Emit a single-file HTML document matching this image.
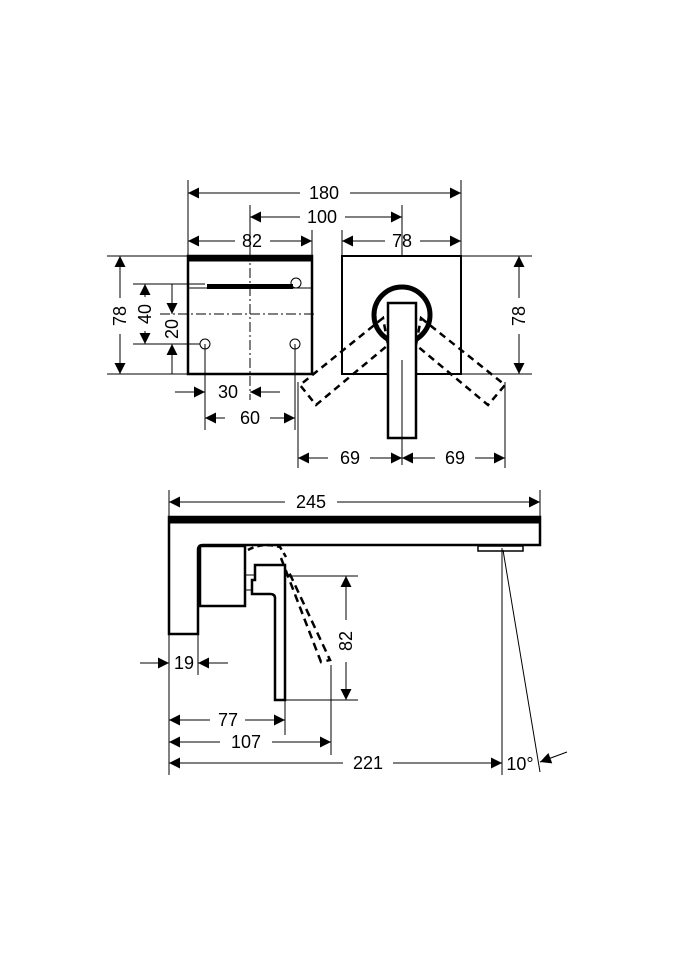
<!DOCTYPE html>
<html><head><meta charset="utf-8"><style>
html,body{margin:0;padding:0;background:#fff;}
svg{display:block;}
text{font-family:"Liberation Sans",sans-serif;font-size:18px;fill:#000;}
</style></head><body>
<svg width="675" height="960" viewBox="0 0 675 960" xmlns="http://www.w3.org/2000/svg">
<defs>
<marker id="a" viewBox="0 0 10 10" refX="10" refY="5" markerWidth="16" markerHeight="11" markerUnits="userSpaceOnUse" orient="auto-start-reverse"><path d="M0,0 L10,5 L0,10 z" fill="#000"/></marker>
</defs>
<g stroke="#000" stroke-width="1" fill="none">
<line x1="188" y1="180" x2="188" y2="256"/>
<line x1="461" y1="180" x2="461" y2="256"/>
<line x1="250" y1="205" x2="250" y2="256"/>
<line x1="402" y1="205" x2="402" y2="256"/>
<line x1="312" y1="230" x2="312" y2="256"/>
<line x1="342" y1="230" x2="342" y2="256"/>
<line x1="188" y1="193" x2="300" y2="193" marker-start="url(#a)"/>
<line x1="350" y1="193" x2="461" y2="193" marker-end="url(#a)"/>
<line x1="250" y1="217" x2="300" y2="217" marker-start="url(#a)"/>
<line x1="345" y1="217" x2="402" y2="217" marker-end="url(#a)"/>
<line x1="188" y1="241" x2="235" y2="241" marker-start="url(#a)"/>
<line x1="270" y1="241" x2="312" y2="241" marker-end="url(#a)"/>
<line x1="342" y1="241" x2="385" y2="241" marker-start="url(#a)"/>
<line x1="420" y1="241" x2="461" y2="241" marker-end="url(#a)"/>
<line x1="107" y1="256" x2="188" y2="256"/>
<line x1="107" y1="374" x2="188" y2="374"/>
<line x1="461" y1="256" x2="532" y2="256"/>
<line x1="461" y1="374" x2="532" y2="374"/>
<line x1="133" y1="284" x2="205" y2="284"/>
<line x1="133" y1="344" x2="200" y2="344"/>
<line x1="120" y1="256" x2="120" y2="298" marker-start="url(#a)"/>
<line x1="120" y1="334" x2="120" y2="374" marker-end="url(#a)"/>
<line x1="145" y1="284" x2="145" y2="297" marker-start="url(#a)"/>
<line x1="145" y1="331" x2="145" y2="344" marker-end="url(#a)"/>
<line x1="172" y1="284" x2="172" y2="314" marker-end="url(#a)"/>
<line x1="172" y1="374" x2="172" y2="344" marker-end="url(#a)"/>
<line x1="519" y1="256" x2="519" y2="298" marker-start="url(#a)"/>
<line x1="519" y1="334" x2="519" y2="374" marker-end="url(#a)"/>
<rect x="188" y="256" width="124" height="118" stroke-width="2.5"/>
<rect x="188" y="256" width="124" height="5" fill="#000"/>
<line x1="188" y1="288" x2="312" y2="288"/>
<rect x="207" y="284" width="86" height="5" fill="#000" stroke="none"/>
<circle cx="296" cy="283" r="5"/>
<circle cx="205" cy="344" r="5"/>
<circle cx="295" cy="344" r="5"/>
<line x1="250" y1="250" x2="250" y2="400" stroke-dasharray="10,3,2,3"/>
<line x1="160" y1="314" x2="314" y2="314" stroke-dasharray="10,3,2,3"/>
<line x1="205" y1="344" x2="205" y2="430"/>
<line x1="295" y1="344" x2="295" y2="430"/>
<line x1="175" y1="392" x2="205" y2="392" marker-end="url(#a)"/>
<line x1="280" y1="392" x2="250" y2="392" marker-end="url(#a)"/>
<line x1="205" y1="418" x2="225" y2="418" marker-start="url(#a)"/>
<line x1="270" y1="418" x2="295" y2="418" marker-end="url(#a)"/>
<rect x="342" y="256" width="119" height="118" stroke-width="2"/>
<circle cx="402" cy="315" r="28" stroke-width="5"/>
<polygon points="383,318 300,385 316,405 388,345" stroke-width="2.5" stroke-dasharray="7,5" fill="none"/>
<polygon points="421,318 505,385 488,405 416,345" stroke-width="2.5" stroke-dasharray="7,5" fill="none"/>
<rect x="388" y="303" width="28" height="135" stroke-width="2.5" fill="#fff"/>
<line x1="402" y1="360" x2="402" y2="465"/>
<line x1="298" y1="382" x2="298" y2="468"/>
<line x1="505" y1="382" x2="505" y2="468"/>
<line x1="298" y1="458" x2="328" y2="458" marker-start="url(#a)"/>
<line x1="370" y1="458" x2="402" y2="458" marker-end="url(#a)"/>
<line x1="402" y1="458" x2="435" y2="458" marker-start="url(#a)"/>
<line x1="475" y1="458" x2="505" y2="458" marker-end="url(#a)"/>

<line x1="169" y1="490" x2="169" y2="775"/>
<line x1="540" y1="490" x2="540" y2="517"/>
<line x1="169" y1="502" x2="285" y2="502" marker-start="url(#a)"/>
<line x1="337" y1="502" x2="540" y2="502" marker-end="url(#a)"/>
<path d="M169,517 H540 V545 H203 Q198,545 198,550 V634 H169 Z" stroke-width="2.5"/>
<rect x="169" y="517" width="371" height="6" fill="#000"/>
<rect x="200" y="546" width="45" height="60" stroke-width="2.5"/>
<path d="M248,550 Q262,542 280,547 L286,557" stroke-width="2.5" stroke-dasharray="6,4"/>
<path d="M281,558 L321,662 L330,660 L288,570" stroke-width="2.5" stroke-dasharray="8,5"/>
<path d="M255,565 H285 V700 H275 V598 Q275,594 270,594 H252 V580 H255 Z" stroke-width="2.5" fill="#fff"/>
<line x1="245" y1="575" x2="255" y2="575"/>
<line x1="245" y1="590" x2="252" y2="590"/>
<rect x="478" y="546" width="45" height="5" stroke-width="1.5"/>
<line x1="285" y1="576" x2="358" y2="576"/>
<line x1="285" y1="700" x2="358" y2="700"/>
<line x1="346" y1="576" x2="346" y2="620" marker-start="url(#a)"/>
<line x1="346" y1="662" x2="346" y2="700" marker-end="url(#a)"/>
<line x1="198" y1="634" x2="198" y2="675"/>
<line x1="140" y1="663" x2="169" y2="663" marker-end="url(#a)"/>
<line x1="228" y1="663" x2="198" y2="663" marker-end="url(#a)"/>
<line x1="285" y1="700" x2="285" y2="735"/>
<line x1="331" y1="665" x2="331" y2="755"/>
<line x1="502" y1="548" x2="502" y2="775"/>
<line x1="169" y1="720" x2="210" y2="720" marker-start="url(#a)"/>
<line x1="245" y1="720" x2="285" y2="720" marker-end="url(#a)"/>
<line x1="169" y1="742" x2="220" y2="742" marker-start="url(#a)"/>
<line x1="272" y1="742" x2="331" y2="742" marker-end="url(#a)"/>
<line x1="169" y1="763" x2="343" y2="763" marker-start="url(#a)"/>
<line x1="393" y1="763" x2="502" y2="763" marker-end="url(#a)"/>
<line x1="503" y1="550" x2="540" y2="772"/>
<line x1="567" y1="752" x2="540" y2="762" marker-end="url(#a)"/>
</g>
<text x="324" y="199" text-anchor="middle">180</text>
<text x="322" y="223" text-anchor="middle">100</text>
<text x="252" y="247" text-anchor="middle">82</text>
<text x="402" y="247" text-anchor="middle">78</text>
<text x="228" y="398" text-anchor="middle">30</text>
<text x="250" y="424" text-anchor="middle">60</text>
<text x="350" y="464" text-anchor="middle">69</text>
<text x="455" y="464" text-anchor="middle">69</text>
<text transform="translate(126,316) rotate(-90)" text-anchor="middle">78</text>
<text transform="translate(151,314) rotate(-90)" text-anchor="middle">40</text>
<text transform="translate(178,329) rotate(-90)" text-anchor="middle">20</text>
<text transform="translate(525,316) rotate(-90)" text-anchor="middle">78</text>
<text x="311" y="508" text-anchor="middle">245</text>
<text transform="translate(352,641) rotate(-90)" text-anchor="middle">82</text>
<text x="184" y="669" text-anchor="middle">19</text>
<text x="228" y="726" text-anchor="middle">77</text>
<text x="246" y="748" text-anchor="middle">107</text>
<text x="368" y="769" text-anchor="middle">221</text>
<text x="520" y="770" text-anchor="middle">10°</text>
</svg>
</body></html>
